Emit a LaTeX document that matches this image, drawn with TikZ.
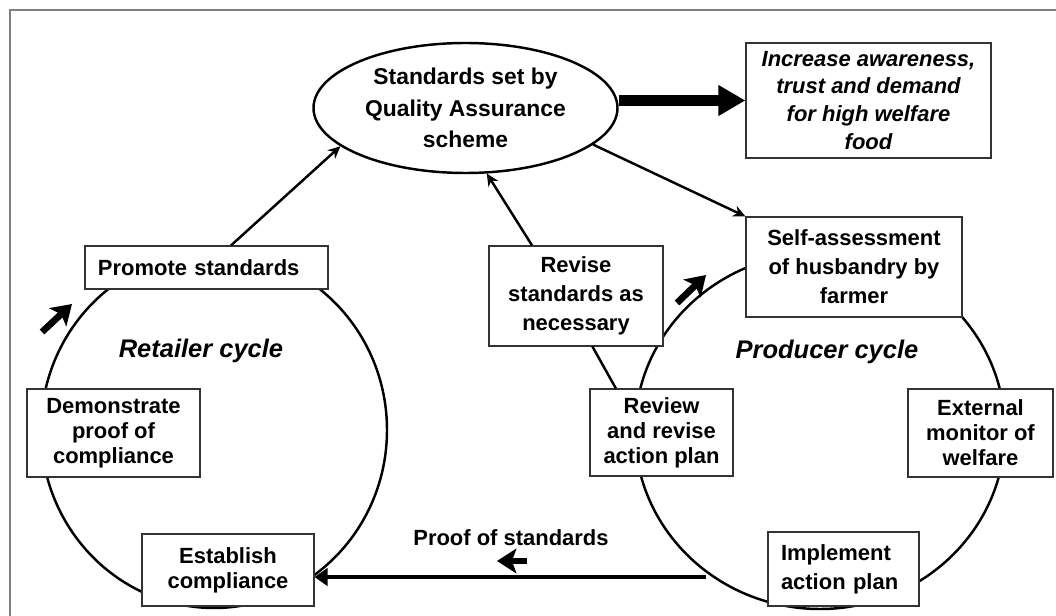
\documentclass[tikz,border=0pt]{standalone}
\usepackage{fontspec}
\setmainfont{Liberation Sans}
\usetikzlibrary{shapes.geometric,arrows.meta}

\tikzset{
  box/.style={draw=black!80, line width=0.6pt, fill=white, align=center,
    inner sep=0pt, font=\fontsize{12.5}{14.2}\selectfont\bfseries},
  loose/.style={font=\fontsize{12.5}{16.5}\selectfont\bfseries},
  cycleline/.style={line width=1.4pt},
  link/.style={line width=1.4pt, -{Stealth[length=7pt,width=6.5pt]}},
  turn/.style={line width=3.8pt, -{Stealth[length=11pt,width=14pt,inset=2.5pt]}},
  cyclename/.style={font=\fontsize{14.5}{17}\selectfont\bfseries\itshape}
}

\begin{document}
\begin{tikzpicture}[x=0.2mm,y=-0.2mm]  % ------ Quality Assurance cycles -----------
\useasboundingbox (0,0) rectangle (1056,616);
    \draw[gray, line width=0.8pt] (10,616) -- (10,10) -- (1056,10);
    % the two cycles
    \draw[cycleline] (214,430) ellipse [x radius=34.6mm, y radius=35.6mm];
    \draw[cycleline] (820,431) ellipse [x radius=37mm, y radius=35.6mm];
    \node[cyclename] (retail) at (201,351) {Retailer cycle};
    \node[cyclename] (produce) at (827,352) {Producer cycle};
    % scheme and outcome
    \node[ellipse, draw, line width=1.4pt, fill=white, inner sep=0pt, align=center,
          minimum width=60.8mm, minimum height=26mm,
          font=\fontsize{13}{18}\selectfont\bfseries] (qa) at (465.5,108)
          {Standards set by\\Quality Assurance\\scheme};
    \node[box, font=\fontsize{12.5}{15.9}\selectfont\bfseries\itshape,
          minimum width=49mm, minimum height=23mm] (aware) at (868.5,100.5)
          {Increase awareness,\\trust and demand\\for high welfare\\food};
    % retailer side
    \node[box, align=left, inner xsep=2.6mm, text width=43.4mm, minimum height=8.6mm]
          (promote) at (206.5,267.5) {Promote standards};
    \node[box, minimum width=34.6mm, minimum height=17.6mm] (demo) at (113.5,433)
          {Demonstrate\\proof of\\compliance};
    \node[box, minimum width=34.4mm, minimum height=14.4mm] (establish) at (228,570)
          {Establish\\compliance};
    % producer side
    \node[box, loose, minimum width=43.2mm, minimum height=20mm] (selfa) at (854,267)
          {Self-assessment\\of husbandry by\\farmer};
    \node[box, loose, minimum width=34.8mm, minimum height=20mm] (revise) at (576,296)
          {Revise\\standards as\\necessary};
    \node[box, minimum width=28.6mm, minimum height=17.4mm] (review) at (661.5,432.5)
          {Review\\and revise\\action plan};
    \node[box, minimum width=29mm, minimum height=17.6mm] (extmon) at (980.5,433)
          {External\\monitor of\\welfare};
    \node[box, loose, align=left, inner xsep=2.6mm, text width=25mm, minimum height=14.8mm]
          (implement) at (843.5,569) {Implement\\action plan};
    % links
    \draw[link] (promote.42) -- (qa.197);
    \draw[link] (revise.131) -- (qa.288);
    \draw[link] (qa.344) -- (selfa.north west);
    \draw[line width=1.4pt] (revise.288) -- (review.136);
    \draw[line width=5.7pt, -{Triangle[length=15.4pt,width=16.5pt]}]
          (qa.east |- aware.west) -- (aware.west);
    % proof of standards
    \coordinate (proofstart) at (706,577);
    \draw[line width=2.8pt, -{Triangle[length=7.5pt,width=10pt]}]
          (proofstart) -- (proofstart -| establish.east);
    \node[box, draw=none, fill=none] (proof) at (511,538) {Proof of standards};
    % direction of the cycles
    \coordinate (ptail) at (527,561); \coordinate (phead) at (497,561);
    \draw[turn] (ptail) -- (phead);
    \coordinate (rtail) at (42,332);  \coordinate (rhead) at (72,304);
    \draw[turn] (rtail) -- (rhead);
    \coordinate (ctail) at (677,303); \coordinate (chead) at (706,275);
    \draw[turn] (ctail) -- (chead);
\end{tikzpicture}
\end{document}
